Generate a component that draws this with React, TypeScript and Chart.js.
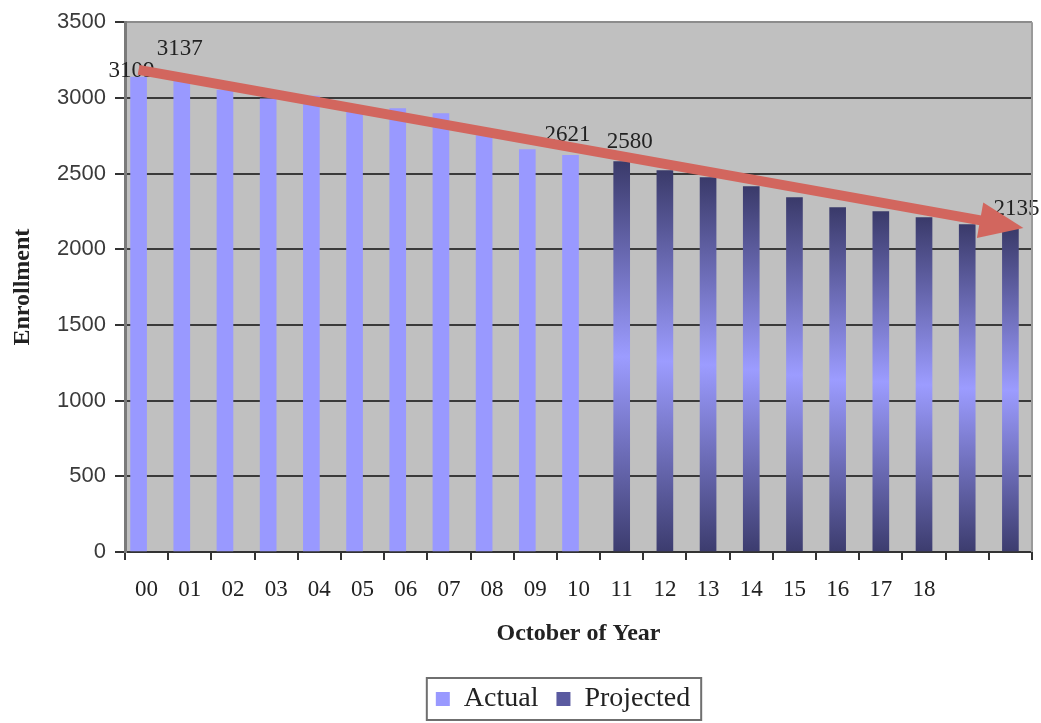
import React, { useEffect, useRef } from 'react';
import { Chart, registerables } from 'chart.js';

Chart.register(...registerables);

// ---- data ----
const YEARS = ['00', '01', '02', '03', '04', '05', '06', '07', '08', '09', '10', '11', '12', '13', '14', '15', '16', '17', '18', '', ''];
const ACTUAL = [3137, 3109, 3052, 2993, 3012, 2917, 2930, 2897, 2751, 2659, 2621, null, null, null, null, null, null, null, null, null, null];
const PROJECTED = [null, null, null, null, null, null, null, null, null, null, null, 2580, 2520, 2473, 2414, 2341, 2275, 2249, 2209, 2163, 2135];
// invisible placeholder so actual bars sit in the left slot of their category (as in the original)
const SPACER = [0, 0, 0, 0, 0, 0, 0, 0, 0, 0, 0, null, null, null, null, null, null, null, null, null, null];
const LABEL_INDEX = [0, 1, 10, 11, 20];
const LABEL_TEXT = ['3109', '3137', '2621', '2580', '2135'];
const TREND_VALUES = [3185, 2140];

// ---- label styling (pixel nudges, not data) ----
const LABEL_DX = [-7, -2, -3, 8, 6];
const LABEL_LIFT = [0, 26, 14, 13, 14];
const LEGEND_SHIFT = 47;

const SERIF = '"Liberation Serif", "Times New Roman", serif';
const SANS = '"Liberation Sans", Arial, sans-serif';

const bgPlugin = {
  id: 'plotBg',
  afterLayout(chart: any) {
    const lg = chart.legend;
    if (lg) {
      lg.left += LEGEND_SHIFT;
      lg.right += LEGEND_SHIFT;
    }
  },
  beforeDraw(chart: any) {
    const { ctx, chartArea: a } = chart;
    if (!a) return;
    ctx.save();
    ctx.fillStyle = '#c0c0c0';
    ctx.fillRect(a.left, a.top, a.right - a.left, a.bottom - a.top);
    ctx.restore();
  },
  afterDraw(chart: any) {
    const { ctx, chartArea: a } = chart;
    ctx.save();
    ctx.strokeStyle = '#9a9a9a';
    ctx.lineWidth = 2;
    ctx.beginPath();
    ctx.moveTo(a.right, a.top);
    ctx.lineTo(a.right, a.bottom);
    ctx.stroke();
    // legend frame
    const lg = chart.legend;
    if (lg && lg.legendHitBoxes && lg.legendHitBoxes.length) {
      let minX = Infinity, maxX = -Infinity, minY = Infinity, maxY = -Infinity;
      lg.legendHitBoxes.forEach((h: any) => {
        minX = Math.min(minX, h.left);
        maxX = Math.max(maxX, h.left + h.width);
        minY = Math.min(minY, h.top);
        maxY = Math.max(maxY, h.top + h.height);
      });
      const cy = (minY + maxY) / 2;
      ctx.strokeStyle = '#6f6f6f';
      ctx.lineWidth = 2;
      ctx.strokeRect(minX - 9, cy - 21, maxX - minX + 20, 42);
    }
    ctx.restore();
  },
};

const annotPlugin = {
  id: 'annot',
  afterDatasetsDraw(chart: any) {
    const { ctx } = chart;
    const y = chart.scales.y;
    const x = chart.scales.x;
    const mA = chart.getDatasetMeta(0);
    const mP = chart.getDatasetMeta(1);
    ctx.save();
    // data labels
    ctx.font = `23px ${SERIF}`;
    ctx.fillStyle = '#222';
    ctx.textAlign = 'center';
    ctx.textBaseline = 'alphabetic';
    LABEL_INDEX.forEach((idx, k) => {
      const el = ACTUAL[idx] != null ? mA.data[idx] : mP.data[idx];
      if (!el) return;
      ctx.fillText(LABEL_TEXT[k], el.x + LABEL_DX[k], el.y - LABEL_LIFT[k]);
    });
    // trend arrow
    const x0 = mA.data[0].x;
    const y0 = y.getPixelForValue(TREND_VALUES[0]);
    const x1 = x.getPixelForValue(YEARS.length - 1) + 13;
    const y1 = y.getPixelForValue(TREND_VALUES[1]);
    const ang = Math.atan2(y1 - y0, x1 - x0);
    const headLen = 44;
    const headHalf = 18;
    const bx = x1 - headLen * Math.cos(ang);
    const by = y1 - headLen * Math.sin(ang);
    ctx.strokeStyle = '#d2665e';
    ctx.fillStyle = '#d2665e';
    ctx.lineWidth = 10;
    ctx.lineCap = 'butt';
    ctx.beginPath();
    ctx.moveTo(x0, y0);
    ctx.lineTo(bx + 2 * Math.cos(ang), by + 2 * Math.sin(ang));
    ctx.stroke();
    ctx.beginPath();
    ctx.moveTo(x1, y1);
    ctx.lineTo(bx - headHalf * Math.sin(ang), by + headHalf * Math.cos(ang));
    ctx.lineTo(bx + headHalf * Math.sin(ang), by - headHalf * Math.cos(ang));
    ctx.closePath();
    ctx.fill();
    ctx.restore();
  },
};

function projectedFill(c: any) {
  const chart = c.chart;
  const a = chart.chartArea;
  if (!a || c.raw == null || !chart.scales.y) return '#5a5aa0';
  const y = chart.scales.y;
  const top = y.getPixelForValue(c.raw);
  const bottom = y.getPixelForValue(0);
  const g = chart.ctx.createLinearGradient(0, top, 0, bottom);
  g.addColorStop(0, '#3a3a6a');
  g.addColorStop(0.5, '#9c9cff');
  g.addColorStop(1, '#3c3c6e');
  return g;
}

export default function App() {
  const ref = useRef<HTMLCanvasElement>(null);
  useEffect(() => {
    if (!ref.current) return;
    const chart = new Chart(ref.current, {
      type: 'bar',
      data: {
        labels: YEARS,
        datasets: [
          { label: 'Actual', data: ACTUAL, backgroundColor: '#9999ff', borderWidth: 0 },
          { label: 'Projected', data: PROJECTED, backgroundColor: projectedFill, borderWidth: 0 },
          { label: 'spacer', data: SPACER, backgroundColor: 'rgba(0,0,0,0)', borderWidth: 0 },
        ],
      },
      options: {
        responsive: false,
        animation: false,
        datasets: { bar: { skipNull: true, barThickness: 16 } } as any,
        layout: { padding: { top: 22, right: 9, left: 0, bottom: 0 } },
        plugins: {
          tooltip: { enabled: false },
          legend: {
            position: 'bottom',
            labels: {
              font: { family: SERIF, size: 28 },
              color: '#222',
              boxWidth: 14,
              boxHeight: 14,
              padding: 4,
              generateLabels: (ch: any) => {
                const items = (Chart.defaults.plugins.legend.labels as any).generateLabels(ch);
                return items
                  .filter((it: any) => it.datasetIndex !== 2)
                  .map((it: any) => ({
                    ...it,
                    text: it.datasetIndex === 0 ? it.text + '  ' : it.text,
                    fillStyle: it.datasetIndex === 0 ? '#9999ff' : '#5a5aa0',
                    strokeStyle: 'rgba(0,0,0,0)',
                    lineWidth: 0,
                  }));
              },
            },
          },
        },
        scales: {
          x: {
            afterFit: (s: any) => { s.height = 129; },
            grid: { offset: true, drawOnChartArea: false, drawTicks: true, tickLength: 8, color: '#333', lineWidth: 2 },
            border: { color: '#333', width: 2 },
            ticks: { font: { family: SERIF, size: 23 }, color: '#222', padding: 16, autoSkip: false, maxRotation: 0 },
            title: { display: true, text: 'October of Year', font: { family: SERIF, size: 24, weight: 'bold' }, color: '#222', padding: { top: 8, bottom: 33 } },
          },
          y: {
            min: 0,
            max: 3500,
            afterFit: (s: any) => { s.width = 125; },
            grid: {
              color: (c: any) => (c.tick && c.tick.value === 3500 ? '#8c8c8c' : '#3a3a3a'),
              lineWidth: 2,
              tickLength: 10,
              tickColor: '#333',
            },
            border: { color: '#7a7a7a', width: 3 },
            ticks: {
              stepSize: 500,
              font: { family: SANS, size: 22 },
              color: '#3a3a3a',
              padding: 9,
              callback: (v: any) => String(v),
            },
            title: { display: true, text: 'Enrollment', font: { family: SERIF, size: 24, weight: 'bold' }, color: '#222', padding: { top: 8, bottom: 0 } },
          },
        },
      },
      plugins: [bgPlugin, annotPlugin],
    });
    return () => chart.destroy();
  }, []);
  return (
    <div style={{ position: 'absolute', left: 0, top: 0, width: 1041, height: 723 }}>
      <canvas ref={ref} width={1041} height={723} />
    </div>
  );
}
